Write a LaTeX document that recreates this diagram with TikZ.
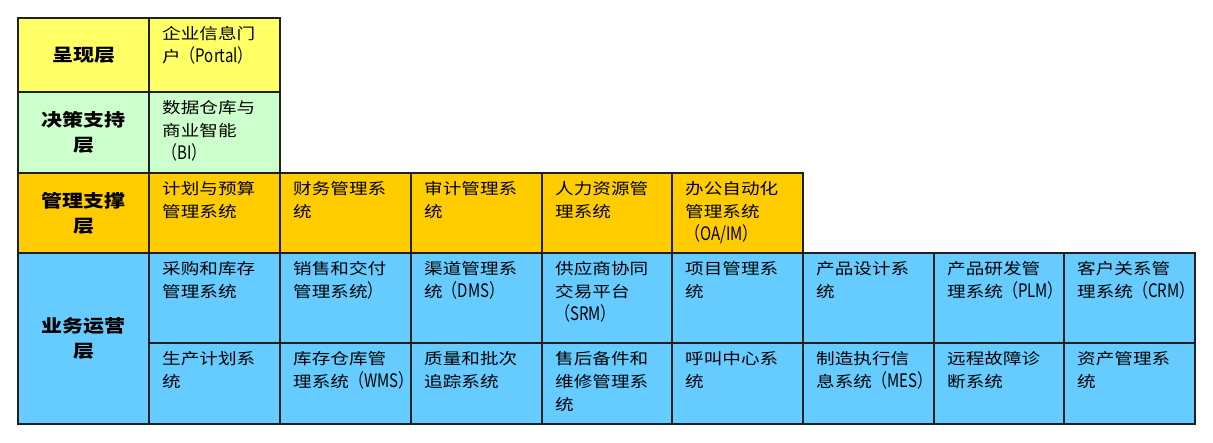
\documentclass[tikz,border=0pt]{standalone}
\usepackage{fontspec}
\usepackage{graphicx}
\setmainfont[FakeStretch=1.2]{Noto Sans CJK SC}
\newfontfamily\latfont[FakeStretch=0.97]{Noto Sans CJK SC}
\newcommand\lat[1]{\scalebox{1}[1.2]{\latfont #1}}
\definecolor{cyel}{HTML}{FFFF66}
\definecolor{cgrn}{HTML}{CCFFCC}
\definecolor{corg}{HTML}{FFCC00}
\definecolor{cblu}{HTML}{66CCFF}
\definecolor{cline}{HTML}{202020}
\usetikzlibrary{calc}
\tikzset{
  cellbg/.style={draw=cline, line width=1.2pt},
  celltxt/.style={anchor=north west, inner sep=0pt, align=left,
    font=\fontsize{15.5}{23}\selectfont},
  layertxt/.style={inner sep=0pt, align=center,
    font=\fontsize{17.5}{25}\selectfont\bfseries}
}
\newcommand\mkcell[7]{%
  \path[cellbg, fill=#5] (#1,#2) rectangle (#3,#4);
  \node[celltxt] (#6) at ($(#1,#2)+(13,8)$) {#7};
}
\newcommand\mklayer[7]{%
  \path[cellbg, fill=#5] (#1,#2) rectangle (#3,#4);
  \node[layertxt] (#6) at ($(#1,#2)!0.5!(#3,#4)$) {#7};
}
\begin{document}
\begin{tikzpicture}[x=1pt,y=-1pt]
\useasboundingbox (0,0) rectangle (1213,442);
% presentation layer
\mklayer{18}{18}{149}{92}{cyel}{L1}{呈现层}
\mkcell{149}{18}{280}{92}{cyel}{p1}{企业信息门\\户\lat{（Portal）}}
% decision layer
\mklayer{18}{92}{149}{173}{cgrn}{L2}{决策支持\\层}
\mkcell{149}{92}{280}{173}{cgrn}{d1}{数据仓库与\\商业智能\\\lat{（BI）}}
% management layer
\mklayer{18}{173}{149}{253}{corg}{L3}{管理支撑\\层}
\mkcell{149}{173}{280}{253}{corg}{m1}{计划与预算\\管理系统}
\mkcell{280}{173}{411}{253}{corg}{m2}{财务管理系\\统}
\mkcell{411}{173}{542}{253}{corg}{m3}{审计管理系\\统}
\mkcell{542}{173}{672}{253}{corg}{m4}{人力资源管\\理系统}
\mkcell{672}{173}{803}{253}{corg}{m5}{办公自动化\\管理系统\\\lat{（OA/IM）}}
% operations layer
\mklayer{18}{253}{149}{424}{cblu}{L4}{业务运营\\层}
\mkcell{149}{253}{280}{343}{cblu}{a1}{采购和库存\\管理系统}
\mkcell{280}{253}{411}{343}{cblu}{a2}{销售和交付\\管理系统\lat{）}}
\mkcell{411}{253}{542}{343}{cblu}{a3}{渠道管理系\\统\lat{（DMS）}}
\mkcell{542}{253}{672}{343}{cblu}{a4}{供应商协同\\交易平台\\\lat{（SRM）}}
\mkcell{672}{253}{803}{343}{cblu}{a5}{项目管理系\\统}
\mkcell{803}{253}{934}{343}{cblu}{a6}{产品设计系\\统}
\mkcell{934}{253}{1064}{343}{cblu}{a7}{产品研发管\\理系统\lat{（PLM）}}
\mkcell{1064}{253}{1195}{343}{cblu}{a8}{客户关系管\\理系统\lat{（CRM）}}
\mkcell{149}{343}{280}{424}{cblu}{b1}{生产计划系\\统}
\mkcell{280}{343}{411}{424}{cblu}{b2}{库存仓库管\\理系统\lat{（WMS）}}
\mkcell{411}{343}{542}{424}{cblu}{b3}{质量和批次\\追踪系统}
\mkcell{542}{343}{672}{424}{cblu}{b4}{售后备件和\\维修管理系\\统}
\mkcell{672}{343}{803}{424}{cblu}{b5}{呼叫中心系\\统}
\mkcell{803}{343}{934}{424}{cblu}{b6}{制造执行信\\息系统\lat{（MES）}}
\mkcell{934}{343}{1064}{424}{cblu}{b7}{远程故障诊\\断系统}
\mkcell{1064}{343}{1195}{424}{cblu}{b8}{资产管理系\\统}
\end{tikzpicture}
\end{document}
